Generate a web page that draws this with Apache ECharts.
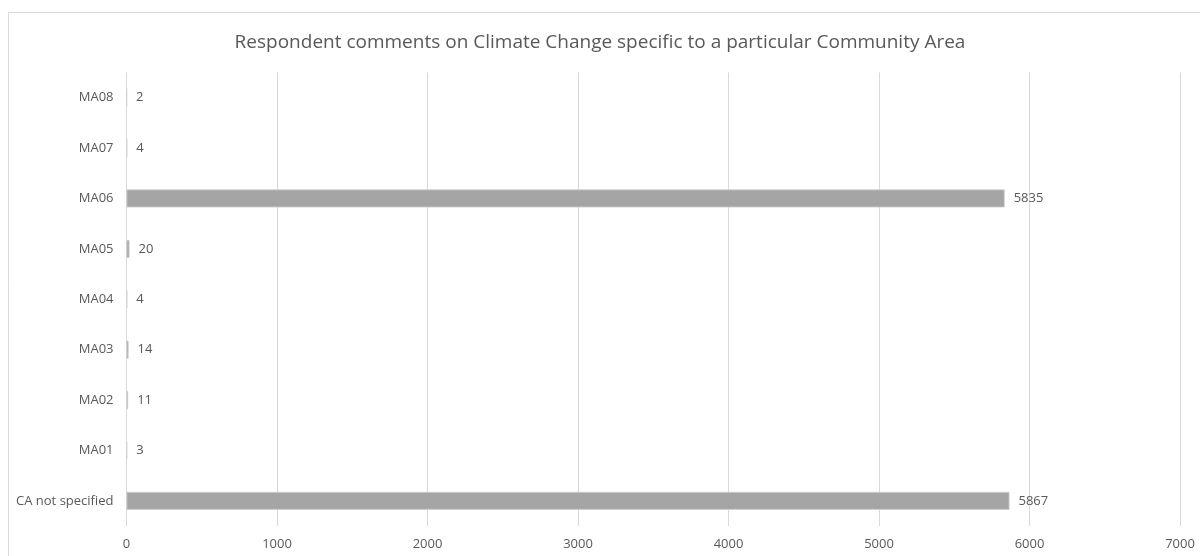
<!DOCTYPE html>
<html>
<head>
<meta charset="utf-8">
<script src="https://cdn.jsdelivr.net/npm/echarts@6/dist/echarts.min.js"></script>
<style>
html,body{margin:0;padding:0;background:#fff;}
#chart{width:1200px;height:556px;}
</style>
</head>
<body>
<div id="chart"></div>
<script>
const titleText = 'Respondent comments on Climate Change specific to a particular Community Area';
const categories = ['CA not specified', 'MA01', 'MA02', 'MA03', 'MA04', 'MA05', 'MA06', 'MA07', 'MA08'];
const values = [5867, 3, 11, 14, 4, 20, 5835, 4, 2];
const xMin = 0, xMax = 7000, xStep = 1000;

const textColor = '#595959';
const fontFam = '"Open Sans", "Liberation Sans", sans-serif';

const chart = echarts.init(document.getElementById('chart'), null, {renderer: 'canvas'});
chart.setOption({
  animation: false,
  backgroundColor: '#ffffff',
  graphic: [{
    type: 'rect',
    shape: {x: 8.5, y: 12.5, width: 1300, height: 700},
    style: {fill: 'none', stroke: '#d9d9d9', lineWidth: 1},
    silent: true
  }],
  title: {
    text: titleText,
    left: 'center',
    top: 28,
    textStyle: {color: textColor, fontFamily: fontFam, fontSize: 19, fontWeight: 'normal'}
  },
  grid: {left: 126.5, right: 20, top: 72.5, bottom: 30, containLabel: false},
  xAxis: {
    type: 'value',
    min: xMin, max: xMax, interval: xStep,
    axisLine: {show: false},
    axisTick: {show: false},
    axisLabel: {color: textColor, fontFamily: fontFam, fontSize: 13, margin: 12,
      formatter: v => String(v)},
    splitLine: {show: true, lineStyle: {color: '#d9d9d9', width: 1}}
  },
  yAxis: {
    type: 'category',
    data: categories,
    axisLine: {show: false},
    axisTick: {show: false},
    axisLabel: {color: textColor, fontFamily: fontFam, fontSize: 13, margin: 13},
    splitLine: {show: false}
  },
  series: [{
    type: 'bar',
    data: values,
    barWidth: 18,
    itemStyle: {color: '#a5a5a5', borderColor: '#cfcfcf', borderWidth: 0.8},
    label: {
      show: true,
      position: 'right',
      distance: 9,
      color: textColor,
      fontFamily: fontFam,
      fontSize: 13
    }
  }]
});
</script>
</body>
</html>
